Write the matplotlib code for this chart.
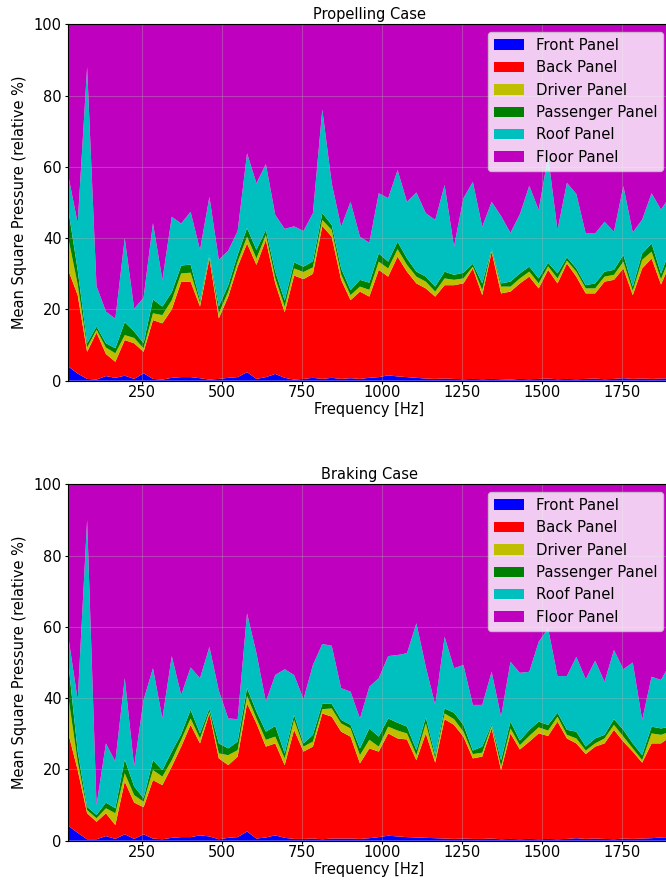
import numpy as np
import matplotlib
matplotlib.use("Agg")
import matplotlib.pyplot as plt

# Frequency axis (evenly spaced analysis bins, Hz)
freq = np.round(19.5 + 29.4 * np.arange(65), 1)

labels = ["Front Panel", "Back Panel", "Driver Panel", "Passenger Panel", "Roof Panel", "Floor Panel"]
colors = ["b", "r", "y", "g", "c", "m"]

# ---- Propelling case: cumulative upper boundary of each layer (relative %) ----
prop_front_top = [4.0, 2.0, 0.5, 0.3, 1.3, 0.8, 1.4, 0.5, 2.1, 0.5,
                  0.3, 0.8, 1.0, 1.0, 0.7, 0.3, 0.5, 0.8, 1.0, 2.4,
                  0.5, 1.0, 1.9, 0.8, 0.3, 0.5, 0.8, 0.5, 0.8, 0.5,
                  0.7, 0.5, 0.8, 1.0, 1.5, 1.2, 1.0, 0.8, 0.6, 0.5,
                  0.6, 0.5, 0.4, 0.5, 0.4, 0.5, 0.4, 0.3, 0.5, 0.4,
                  0.5, 0.6, 0.4, 0.5, 0.4, 0.5, 0.6, 0.4, 0.5, 0.7,
                  0.5, 0.6, 0.5, 0.6, 0.7]
prop_back_top = [31, 24, 8.1, 13.5, 7.5, 5.3, 11.4, 10.5, 8.1, 17,
                 16.1, 20, 27.8, 27.8, 20.8, 34.3, 17.5, 23.6, 32, 38.5,
                 32.5, 39.5, 27.3, 19.2, 29.5, 28.5, 30, 43.4, 40.4, 28.3,
                 22.6, 25, 23.6, 31.1, 29.2, 34.8, 30.6, 27.3, 25.9, 23.6,
                 26.8, 26.8, 27.3, 31.5, 24, 36.2, 24.5, 25, 27.3, 29.2,
                 25.9, 31.1, 27.3, 32.9, 29.2, 24.5, 24.5, 27.8, 28.3, 31.5,
                 24, 31.5, 34.3, 27, 33]
prop_driver_top = [40, 27, 9.3, 14.3, 9.3, 7.7, 12.8, 12, 9.1, 18.9,
                   18.4, 22.6, 30.1, 30.3, 21.8, 34.8, 18.9, 25, 33.4, 40.4,
                   34.3, 40.9, 28.7, 20.8, 31.5, 30.5, 31.8, 45.1, 42.3, 29.8,
                   24, 26.4, 25.5, 33.4, 31.5, 36.9, 32.5, 29.2, 27.8, 25,
                   28.7, 28.3, 28.7, 32, 25.4, 36.6, 26.4, 26.4, 28.7, 30.6,
                   27.3, 32.1, 28.7, 33.7, 30.6, 25.9, 25.9, 29.2, 29.7, 33.4,
                   25.2, 33.9, 36.2, 28.5, 35]
prop_passenger_top = [48, 31, 10.5, 15.2, 10.5, 9.1, 16.4, 13.8, 10.5, 22.8,
                      20.8, 24.8, 32.3, 32.6, 22.6, 35.3, 20.8, 26.8, 35.3, 42.8,
                      36.7, 42.3, 30.6, 22.5, 33.2, 32, 33.5, 47, 43.7, 31.5,
                      25.4, 28.3, 27.5, 35.7, 33.4, 39, 34.3, 30.6, 29.2, 26.4,
                      30.6, 29.7, 30.3, 32.8, 27.3, 37, 27.3, 27.8, 30.1, 32,
                      28.7, 33.1, 30.1, 34.6, 31.5, 26.8, 27.3, 30.6, 31.1, 35.3,
                      26.4, 35.7, 38.5, 30, 37]
prop_roof_top = [57.5, 44.2, 88, 26.5, 19.4, 17.4, 40, 20.2, 23.3, 44.2,
                 28.3, 46, 44.1, 47.4, 36.7, 51.6, 33.9, 36.5, 42, 63.8,
                 55.4, 60.8, 46.5, 42.6, 43.3, 42, 47, 76.1, 55.4, 43.2,
                 50.2, 40.4, 38.7, 52.6, 51.2, 59.1, 50.2, 52.8, 47, 45.1,
                 54.9, 37.6, 51.2, 55.8, 43.2, 50.2, 46.2, 41.5, 46.7, 54.7,
                 47.9, 63, 42.3, 55.5, 52.4, 41.3, 41.3, 44.6, 41.8, 54.6,
                 41.6, 45.2, 52.6, 48, 52]

# ---- Braking case ----
brake_front_top = [4.2, 2.2, 0.4, 0.4, 1.3, 0.5, 1.8, 0.5, 1.8, 0.6,
                   0.4, 0.8, 1.0, 1.0, 1.5, 1.2, 0.4, 0.8, 1.0, 2.6,
                   0.6, 0.9, 1.5, 0.8, 0.5, 0.5, 0.6, 0.4, 0.6, 0.6,
                   0.6, 0.5, 0.7, 1.0, 1.4, 1.2, 1.0, 0.9, 0.8, 0.7,
                   0.6, 0.5, 0.6, 0.5, 0.5, 0.6, 0.4, 0.5, 0.4, 0.5,
                   0.4, 0.5, 0.4, 0.5, 0.7, 0.5, 0.6, 0.5, 0.4, 0.6,
                   0.5, 0.6, 0.7, 0.9, 1.0]
brake_back_top = [30.1, 19.8, 7.7, 5.3, 7.7, 4.4, 16.6, 10.7, 9.4, 17,
                  15.6, 20.8, 26.4, 32.5, 27.3, 35.7, 23.1, 21.2, 23.6, 38.5,
                  32.9, 26.4, 27.3, 21.2, 31.1, 25, 26.4, 35.7, 34.8, 30.6,
                  29.2, 21.7, 25.9, 25, 30.1, 28.7, 28.4, 22.6, 30.1, 21.9,
                  34.1, 32.5, 29.2, 23.1, 23.6, 31.5, 19.8, 30.1, 25.6, 27.8,
                  30.1, 29.4, 33.4, 28.7, 27.3, 24.3, 26.4, 27.3, 31.1, 27.8,
                  25, 21.9, 27.3, 27.3, 29.2]
brake_driver_top = [40.4, 22.2, 8.6, 6.3, 9.1, 7.7, 18.9, 12.8, 10.9, 19.8,
                    18, 22.6, 28.3, 34.3, 28.7, 36.2, 24.5, 24, 25.4, 40.6,
                    34.3, 28.3, 29.2, 23.1, 33.9, 26.4, 27.8, 36.9, 37.1, 32.9,
                    31.5, 24, 28.3, 26.4, 32, 30.9, 30.1, 24, 32.9, 23.1,
                    35.7, 34.1, 30.6, 24.3, 24.7, 32.2, 20.8, 31.5, 26.8, 29.4,
                    31.8, 30.9, 34.8, 29.7, 28.7, 25.3, 27.3, 28.7, 32.5, 29.2,
                    25.9, 22.6, 30.1, 29.7, 30.6]
brake_passenger_top = [50, 25, 9.5, 7.2, 10.7, 9.1, 22.8, 15.2, 11.9, 22.6,
                       19.8, 25, 29.9, 36.7, 30.1, 37.1, 27.3, 25.9, 27.8, 42.8,
                       36.2, 30.6, 32.2, 24.5, 35.3, 27.3, 29.7, 38.4, 38.4, 33.9,
                       32.5, 25.9, 31.5, 29.2, 34.3, 33.1, 32, 25.4, 34.6, 24,
                       37.1, 35.9, 32.5, 25.3, 26.4, 32.7, 22.6, 33.4, 28.1, 31.1,
                       33.4, 32.5, 35.9, 31.1, 30.6, 26.4, 28.7, 29.7, 34.1, 31.1,
                       27.3, 24, 32, 31.5, 32]
brake_roof_top = [57.2, 39.5, 90, 10, 27.3, 22.2, 45.6, 20.8, 39.5, 48.4,
                  34.3, 51.8, 40.9, 48.6, 45.6, 54.4, 42.1, 34.3, 34.1, 63.8,
                  52.6, 39, 46.5, 48.1, 46.5, 39.7, 49.3, 55.2, 54.7, 42.8,
                  41.8, 34.3, 43.2, 45.6, 51.8, 52.1, 52.6, 61, 48.8, 38.1,
                  57.2, 48.4, 49.3, 38.1, 38.1, 47.4, 34.8, 50.2, 47.1, 47.4,
                  55.8, 59.6, 46.2, 46.2, 51.6, 45.3, 50.5, 44.6, 53.5, 48.1,
                  50, 33.9, 46, 45.1, 49.8]

cases = [
    ("Propelling Case", [prop_front_top, prop_back_top, prop_driver_top,
                         prop_passenger_top, prop_roof_top]),
    ("Braking Case", [brake_front_top, brake_back_top, brake_driver_top,
                      brake_passenger_top, brake_roof_top]),
]

plt.rcParams["font.size"] = 10.5

fig = plt.figure(figsize=(6.66, 8.8), dpi=100)
W, H = 666.0, 880.0
ax_left, ax_right = 68.3, 670.4
ax_bottoms = [380.7, 840.7]
ax_h = 356.4

for (title, tops), yb in zip(cases, ax_bottoms):
    levels = np.vstack([np.zeros(len(freq))] + [np.asarray(t, float) for t in tops]
                       + [np.full(len(freq), 100.0)])
    layers = np.clip(np.diff(levels, axis=0), 0, None)
    ax = fig.add_axes([ax_left / W, 1 - yb / H, (ax_right - ax_left) / W, ax_h / H])
    ax.stackplot(freq, *layers, labels=labels, colors=colors)
    ax.set_xlim(freq[0], freq[-1])
    ax.set_ylim(0, 100)
    ax.set_xticks([250, 500, 750, 1000, 1250, 1500, 1750])
    ax.set_yticks([0, 20, 40, 60, 80, 100])
    ax.tick_params(length=2.4, pad=2.4)
    ax.tick_params(axis="x", pad=1.0)
    ax.grid(True, color="#b0b0b0", alpha=0.35, linewidth=0.8)
    ax.set_title(title, fontsize=10.5, pad=3.5)
    ax.set_xlabel("Frequency [Hz]", labelpad=1.0)
    ax.set_ylabel("Mean Square Pressure (relative %)", labelpad=5)
    ax.legend(loc="upper right", fontsize=10.7)

fig.savefig("out.png", dpi=100)
